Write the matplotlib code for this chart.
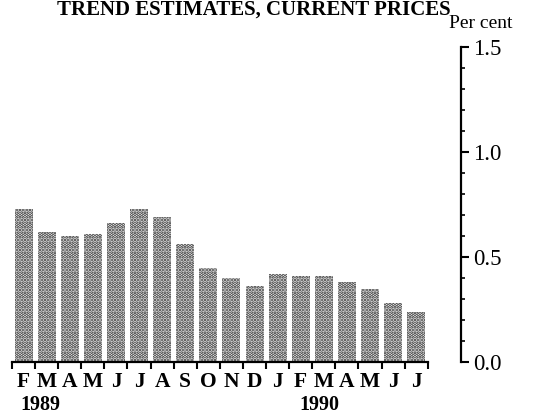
import numpy as np
import matplotlib.pyplot as plt
from matplotlib.ticker import MultipleLocator
from matplotlib.transforms import blended_transform_factory

months = ['F', 'M', 'A', 'M', 'J', 'J', 'A', 'S', 'O', 'N', 'D',
          'J', 'F', 'M', 'A', 'M', 'J', 'J']
values = [0.73, 0.62, 0.60, 0.61, 0.66, 0.73, 0.69, 0.56, 0.45, 0.40, 0.36,
          0.42, 0.41, 0.41, 0.38, 0.35, 0.28, 0.24]
years = ['1989', '1990']
year_pos = [0.75, 12.8]

plt.rcParams['font.family'] = ['Liberation Serif', 'DejaVu Serif']
plt.rcParams['hatch.linewidth'] = 1.8
plt.rcParams['hatch.color'] = '#2a2a2a'

fig = plt.figure(figsize=(5.34, 4.17), dpi=100)
ax = fig.add_axes([12/534, 55/417, 449/534, 315/417])

x = np.arange(len(values))
ax.bar(x, values, width=0.78, color='white', edgecolor='#2a2a2a',
       linewidth=0, hatch='.....')

ax.set_xlim(-0.5, 18.94)
ax.set_ylim(0, 1.5)

for s in ['top', 'left']:
    ax.spines[s].set_visible(False)
ax.spines['bottom'].set_bounds(-0.5, 17.5)
ax.spines['bottom'].set_linewidth(1.6)
ax.spines['right'].set_linewidth(1.6)

# ticks sit between the bars
ax.set_xticks(np.arange(-0.5, 18.0, 1.0))
ax.set_xticklabels([])
ax.tick_params(axis='x', which='major', direction='out', length=5, width=1.5)

# month and year labels under the bars
tr = blended_transform_factory(ax.transData, fig.transFigure)
for i, m in enumerate(months):
    ax.text(i, 1 - 382/417, m, transform=tr, ha='center', va='center',
            fontsize=15.5, fontweight='bold', clip_on=False)
for yr, p in zip(years, year_pos):
    ax.text(p, 1 - 405/417, yr, transform=tr, ha='center', va='center',
            fontsize=14.5, fontweight='bold', clip_on=False)

ax.yaxis.tick_right()
ax.yaxis.set_minor_locator(MultipleLocator(0.1))
ax.set_yticks([0.0, 0.5, 1.0, 1.5])
ax.set_yticklabels(['0.0', '0.5', '1.0', '1.5'], fontsize=16.5)
ax.tick_params(axis='y', which='major', direction='out', length=6, width=1.5, pad=3)
ax.tick_params(axis='y', which='minor', direction='out', length=3, width=1.2)

fig.text(481/534, 1 - 24/417, 'Per cent', ha='center', va='center', fontsize=14)
fig.text(254/534, 1 - 15/417, 'TREND ESTIMATES, CURRENT PRICES', ha='center',
         va='baseline', fontsize=15, fontweight='bold')

fig.savefig('out.png', dpi=100)
